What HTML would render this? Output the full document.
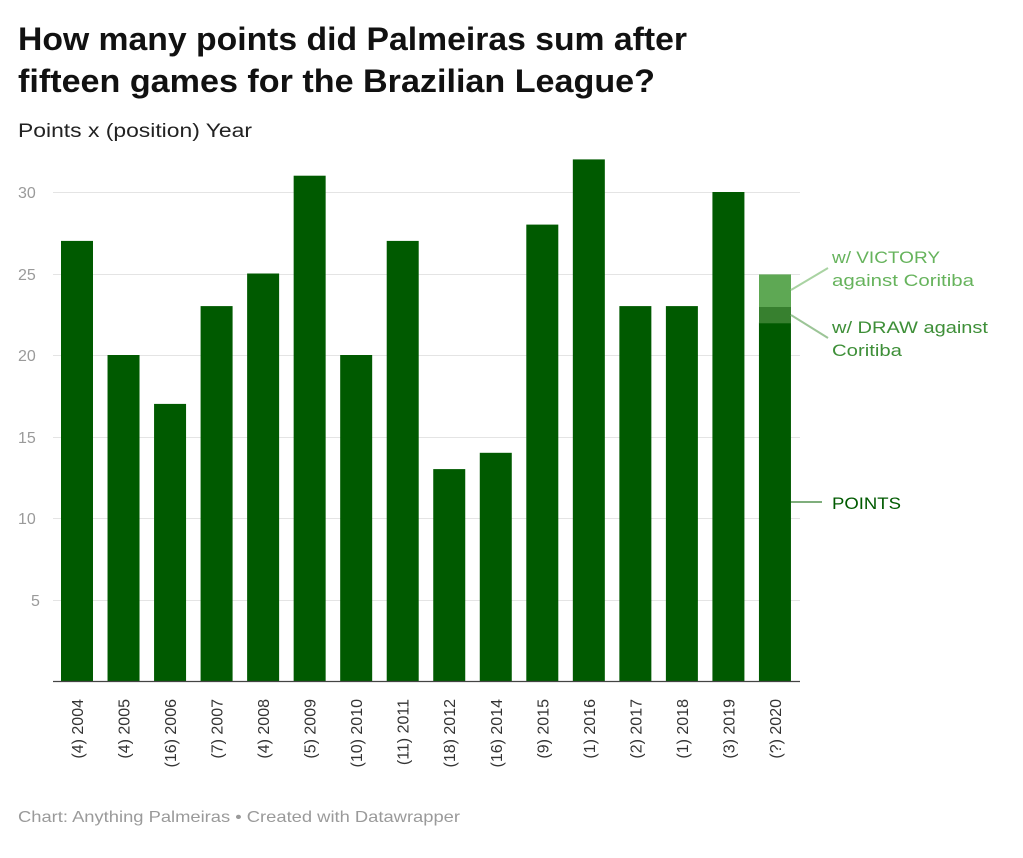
<!DOCTYPE html>
<html><head><meta charset="utf-8"><style>
html,body{margin:0;padding:0;background:#fff;}
svg{display:block;font-family:"Liberation Sans",sans-serif;}
</style></head><body>
<svg width="1023" height="858" viewBox="0 0 1023 858" xmlns="http://www.w3.org/2000/svg">
<text x="18" y="50" font-size="32" font-weight="bold" fill="#111" textLength="669" lengthAdjust="spacingAndGlyphs">How many points did Palmeiras sum after</text>
<text x="18" y="92" font-size="32" font-weight="bold" fill="#111" textLength="637" lengthAdjust="spacingAndGlyphs">fifteen games for the Brazilian League?</text>
<text x="18" y="137" font-size="19" fill="#222" textLength="234" lengthAdjust="spacingAndGlyphs">Points x (position) Year</text>
<g stroke="#e4e4e4" stroke-width="1">
<line x1="53" x2="800" y1="192.5" y2="192.5"/>
<line x1="53" x2="800" y1="274.5" y2="274.5"/>
<line x1="53" x2="800" y1="355.5" y2="355.5"/>
<line x1="53" x2="800" y1="437.5" y2="437.5"/>
<line x1="53" x2="800" y1="518.5" y2="518.5"/>
<line x1="53" x2="800" y1="600.5" y2="600.5"/>
</g>
<g font-size="16" fill="#9a9a9a">
<text x="18" y="198">30</text><text x="18" y="280">25</text><text x="18" y="361">20</text>
<text x="18" y="443">15</text><text x="18" y="524">10</text><text x="31" y="606">5</text>
</g>
<g fill="#005a00" id="bars"></g>
<rect x="759" y="274.4" width="32" height="32.6" fill="#5ea854"/>
<rect x="759" y="307" width="32" height="16.3" fill="#37802f"/>
<line x1="53" x2="800" y1="681.5" y2="681.5" stroke="#444" stroke-width="1.3"/>
<g stroke-width="2" fill="none">
<line x1="791" y1="290" x2="828" y2="268" stroke="#a9d3a2"/>
<line x1="791" y1="315" x2="828" y2="338" stroke="#9cc597"/>
<line x1="791" y1="502" x2="822" y2="502" stroke="#7fae7c"/>
</g>
<g font-size="17">
<text x="832" y="263" fill="#66b35c" textLength="108" lengthAdjust="spacingAndGlyphs">w/ VICTORY</text>
<text x="832" y="286" fill="#66b35c" textLength="142" lengthAdjust="spacingAndGlyphs">against Coritiba</text>
<text x="832" y="333" fill="#3e8f38" textLength="156" lengthAdjust="spacingAndGlyphs">w/ DRAW against</text>
<text x="832" y="356" fill="#3e8f38" textLength="70" lengthAdjust="spacingAndGlyphs">Coritiba</text>
<text x="832" y="509" fill="#005a00" textLength="69" lengthAdjust="spacingAndGlyphs">POINTS</text>
</g>
<g id="labels" font-size="16" fill="#333"></g>
<text x="18" y="822" font-size="16" fill="#9a9a9a" textLength="442" lengthAdjust="spacingAndGlyphs">Chart: Anything Palmeiras • Created with Datawrapper</text>
<script>
var v=[27,20,17,23,25,31,20,27,13,14,28,32,23,23,30,22];
var l=["(4) 2004","(4) 2005","(16) 2006","(7) 2007","(4) 2008","(5) 2009","(10) 2010","(11) 2011","(18) 2012","(16) 2014","(9) 2015","(1) 2016","(2) 2017","(1) 2018","(3) 2019","(?) 2020"];
var ns="http://www.w3.org/2000/svg",b=document.getElementById("bars"),g=document.getElementById("labels");
for(var i=0;i<16;i++){var x=61+i*46.53;var r=document.createElementNS(ns,"rect");
r.setAttribute("x",x);r.setAttribute("width",32);var h=v[i]*16.3;r.setAttribute("y",681-h);r.setAttribute("height",h);b.appendChild(r);
var t=document.createElementNS(ns,"text");var cx=x+16+6;t.setAttribute("transform","translate("+cx+",699) rotate(-90)");
t.setAttribute("text-anchor","end");t.textContent=l[i];g.appendChild(t);}
</script>
</svg>
</body></html>
